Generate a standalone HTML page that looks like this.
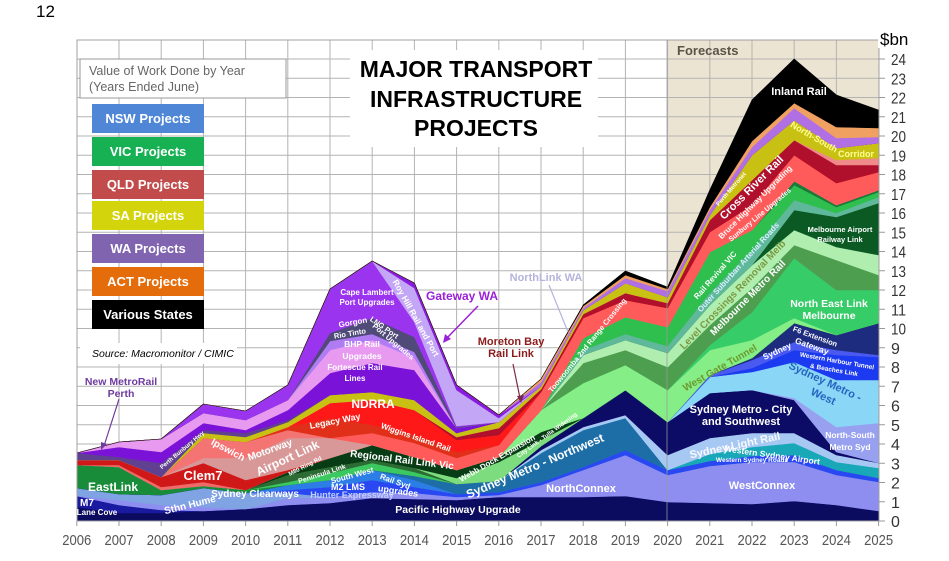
<!DOCTYPE html>
<html><head><meta charset="utf-8">
<style>
html,body{margin:0;padding:0;background:#fff;}
svg{display:block;font-family:"Liberation Sans",Arial,sans-serif;}
.w{fill:#fff;font-weight:bold;text-anchor:middle;}
</style></head><body>
<svg id="c" width="949" height="561" viewBox="0 0 949 561" xmlns="http://www.w3.org/2000/svg">
<rect width="949" height="561" fill="#fff"/>
<rect x="667" y="40" width="212" height="481" fill="#ece4d2"/>
<g id="grid"></g>
<g id="areas"></g>
<line x1="667" y1="40" x2="667" y2="521" stroke="#9a9a9a" stroke-width="1" opacity="0.75"/>
<rect x="77" y="40" width="802" height="481" fill="none" stroke="#a0a0a0" stroke-width="1"/>
<g id="ticks"></g>

<!-- legend -->
<rect x="80" y="59" width="206" height="39" fill="#fff" stroke="#9a9a9a" stroke-width="1"/>
<text x="89" y="75" font-size="12.5" fill="#666">Value of Work Done by Year</text>
<text x="89" y="91" font-size="12.5" fill="#666">(Years Ended June)</text>
<rect x="92" y="104" width="112" height="29" fill="#4f86d6"/>
<text x="148" y="123" class="w" font-size="13">NSW Projects</text>
<rect x="92" y="137" width="112" height="29" fill="#17b153"/>
<text x="148" y="156" class="w" font-size="13">VIC Projects</text>
<rect x="92" y="170" width="112" height="29" fill="#c24b4b"/>
<text x="148" y="189" class="w" font-size="13">QLD Projects</text>
<rect x="92" y="201" width="112" height="29" fill="#d4d40c"/>
<text x="148" y="220" class="w" font-size="13">SA Projects</text>
<rect x="92" y="234" width="112" height="29" fill="#8064b0"/>
<text x="148" y="253" class="w" font-size="13">WA Projects</text>
<rect x="92" y="267" width="112" height="29" fill="#e46c0a"/>
<text x="148" y="286" class="w" font-size="13">ACT Projects</text>
<rect x="92" y="300" width="112" height="29" fill="#000"/>
<text x="148" y="319" class="w" font-size="13">Various States</text>
<rect x="80" y="343" width="157" height="21" fill="#fff"/>
<text x="92" y="357" font-size="10.5" font-style="italic" fill="#000">Source: Macromonitor / CIMIC</text>

<!-- title -->
<rect x="350" y="50" width="248" height="97" fill="#fff"/>
<text x="476" y="77" font-size="23" font-weight="bold" text-anchor="middle" fill="#000">MAJOR TRANSPORT</text>
<text x="476" y="107" font-size="23" font-weight="bold" text-anchor="middle" fill="#000">INFRASTRUCTURE</text>
<text x="476" y="136" font-size="23" font-weight="bold" text-anchor="middle" fill="#000">PROJECTS</text>

<text x="677" y="55" font-size="13" font-weight="bold" fill="#5a5448">Forecasts</text>
<rect x="878" y="26" width="33" height="22" fill="#fff"/>
<text x="880" y="45" font-size="17" fill="#000">$bn</text>
<text x="36" y="17" font-size="17" fill="#000">12</text>

<!-- callouts -->
<text x="121" y="385" font-size="10.5" font-weight="bold" text-anchor="middle" fill="#6e3a9e">New MetroRail</text>
<text x="121" y="397" font-size="10.5" font-weight="bold" text-anchor="middle" fill="#6e3a9e">Perth</text>
<line x1="119" y1="399" x2="104" y2="446" stroke="#6e3a9e" stroke-width="1.2"/>
<polygon points="101,450 101,442 107,444" fill="#6e3a9e"/>
<text x="462" y="300" font-size="12" font-weight="bold" text-anchor="middle" fill="#9b20d9">Gateway WA</text>
<line x1="478" y1="306" x2="446" y2="339" stroke="#9b20d9" stroke-width="1.5"/>
<polygon points="443,343 445,334 451,339" fill="#9b20d9"/>
<text x="511" y="345" font-size="11" font-weight="bold" text-anchor="middle" fill="#8c1c1c">Moreton Bay</text>
<text x="511" y="357" font-size="11" font-weight="bold" text-anchor="middle" fill="#8c1c1c">Rail Link</text>
<line x1="513" y1="364" x2="520" y2="398" stroke="#7a2a4a" stroke-width="1.2"/>
<polygon points="521,403 517,396 524,395" fill="#7a2a4a"/>
<text x="546" y="281" font-size="11" font-weight="bold" text-anchor="middle" fill="#b4b4dc">NorthLink WA</text>
<line x1="549" y1="285" x2="568" y2="332" stroke="#b4b4dc" stroke-width="1.2"/>

<!-- in-area labels -->
<g class="w">
<text x="458" y="513" font-size="10.5">Pacific Highway Upgrade</text>
<text x="762" y="489" font-size="11">WestConnex</text>
<text x="581" y="492" font-size="11">NorthConnex</text>
<text x="535" y="470" font-size="12" transform="rotate(-23 535 466)">Sydney Metro - Northwest</text>
<text x="741" y="413" font-size="11">Sydney Metro - City</text>
<text x="741" y="425" font-size="11">and Southwest</text>
<text x="850" y="438" font-size="8.5">North-South</text>
<text x="850" y="450" font-size="8.5">Metro Syd</text>
<text x="735" y="449" font-size="11" transform="rotate(-12 735 446)" opacity="0.9">Sydney Light Rail</text>
<text x="772" y="458" font-size="8.5" transform="rotate(8 772 456)">Western Sydney Airport</text>
<text x="752" y="462" font-size="6.5">Western Sydney Roads</text>
<text x="829" y="307" font-size="10.5">North East Link</text>
<text x="829" y="319" font-size="10.5">Melbourne</text>
<text x="815" y="339" font-size="7.5" transform="rotate(20 815 337)">F6 Extension</text>
<text x="777" y="354" font-size="8.5" transform="rotate(-25 777 351)">Sydney</text>
<text x="812" y="349" font-size="8.5" transform="rotate(20 812 346)">Gateway</text>
<text x="837" y="363" font-size="6.5" transform="rotate(10 837 361)">Western Harbour Tunnel</text>
<text x="834" y="372" font-size="6.5" transform="rotate(10 834 370)">&amp; Beaches Link</text>
<text x="840" y="232" font-size="7.5">Melbourne Airport</text>
<text x="840" y="242" font-size="7.5">Railway Link</text>
<text x="799" y="95" font-size="11">Inland Rail</text>
<text x="752" y="191" font-size="11" transform="rotate(-45 752 188)">Cross River Rail</text>
<text x="755" y="205" font-size="8" transform="rotate(-45 755 202)">Bruce Highway Upgrading</text>
<text x="731" y="191" font-size="6" transform="rotate(-49 731 189)">Perth Metronet</text>
<text x="760" y="217" font-size="7" transform="rotate(-40 760 215)">Sunbury Line Upgrades</text>
<text x="715" y="278" font-size="8" transform="rotate(-49 715 275)">Rail Revival VIC</text>
<text x="738" y="270" font-size="8" transform="rotate(-48 738 267)" fill="#d8f0ff">Outer Suburban Arterial Roads</text>
<text x="748" y="301" font-size="10" transform="rotate(-45 748 298)">Melbourne Metro Rail</text>
<text x="587" y="348" font-size="7.5" transform="rotate(-51 587 345)">Toowoomba 2nd Range Crossing</text>
<text x="497" y="461" font-size="8" transform="rotate(-30 497 458)">Webb Dock Expansion</text>
<text x="547" y="437" font-size="6" transform="rotate(-36 547 435)">City Link - Tulla Widening</text>
<text x="416" y="321" font-size="8.5" transform="rotate(61 416 318)">Roy Hill Rail and Port</text>
<text x="367" y="295" font-size="8">Cape Lambert</text>
<text x="367" y="305" font-size="8">Port Upgrades</text>
<text x="353" y="325" font-size="8" transform="rotate(-10 353 323)">Gorgon</text>
<text x="350" y="336" font-size="7.5" transform="rotate(-10 350 334)">Rio Tinto</text>
<text x="384" y="330" font-size="7.5" transform="rotate(35 384 328)">LNG Port</text>
<text x="393" y="344" font-size="7.5" transform="rotate(40 393 342)">Port Upgrades</text>
<text x="362" y="347" font-size="8.5">BHP Rail</text>
<text x="362" y="359" font-size="8.5">Upgrades</text>
<text x="355" y="370" font-size="8">Fortescue Rail</text>
<text x="355" y="381" font-size="8">Lines</text>
<text x="373" y="408" font-size="12">NDRRA</text>
<text x="335" y="424" font-size="9" transform="rotate(-11 335 421)">Legacy Way</text>
<text x="416" y="440" font-size="8" transform="rotate(19 416 437)">Wiggins Island Rail</text>
<text x="402" y="463" font-size="10" transform="rotate(7 402 460)">Regional Rail Link Vic</text>
<text x="305" y="468" font-size="6" transform="rotate(-27 305 466)">M80 Ring Rd</text>
<text x="322" y="476" font-size="7" transform="rotate(-18 322 474)">Peninsula Link</text>
<text x="352" y="478" font-size="8" transform="rotate(-15 352 475)">South West</text>
<text x="395" y="484" font-size="8" transform="rotate(20 395 482)">Rail Syd</text>
<text x="348" y="490" font-size="9">M2 LMS</text>
<text x="398" y="494" font-size="9" transform="rotate(8 398 492)">upgrades</text>
<text x="352" y="498" font-size="9" fill="#c0d0ff">Hunter Expressway</text>
<text x="288" y="462" font-size="12" transform="rotate(-25 288 459)">Airport Link</text>
<text x="228" y="453" font-size="10" transform="rotate(28 228 450)">Ipswich</text>
<text x="270" y="453" font-size="10" transform="rotate(-20 270 450)">Motorway</text>
<text x="203" y="480" font-size="13">Clem7</text>
<text x="113" y="491" font-size="12">EastLink</text>
<text x="87" y="506" font-size="10">M7</text>
<text x="97" y="515" font-size="8">Lane Cove</text>
<text x="190" y="508" font-size="10" transform="rotate(-14 190 505)">Sthn Hume</text>
<text x="255" y="497" font-size="10">Sydney Clearways</text>
<text x="182" y="452" font-size="6" transform="rotate(-40 182 450)">Perth Bunbury Hwy</text>
</g>
<text x="720" y="371" font-size="10" font-weight="bold" text-anchor="middle" fill="#6c9a30" transform="rotate(-30 720 368)">West Gate Tunnel</text>
<text x="733" y="298" font-size="10" font-weight="bold" text-anchor="middle" fill="#7a9a40" transform="rotate(-46 733 295)">Level Crossings Removal Melb</text>
<text x="825" y="385" font-size="11" font-weight="bold" text-anchor="middle" fill="#2565c0" transform="rotate(25 825 382)">Sydney Metro -</text>
<text x="823" y="400" font-size="11" font-weight="bold" text-anchor="middle" fill="#2565c0" transform="rotate(25 823 397)">West</text>
<text x="814" y="140" font-size="9" font-weight="bold" text-anchor="middle" fill="#ffff90" transform="rotate(30 814 137)">North-South</text>
<text x="856" y="157" font-size="9" font-weight="bold" text-anchor="middle" fill="#ffff90">Corridor</text>
<g id="labels"></g>
</svg>
<script>
(function(){
var NS="http://www.w3.org/2000/svg";
function X(i){return 76.8+i*42.2;}
function Y(v){return 521-v*19.25;}
function z(k){var a=[];for(var i=0;i<k;i++)a.push(null);return a;}
function el(tag,attrs,parent){var e=document.createElementNS(NS,tag);for(var k in attrs)e.setAttribute(k,attrs[k]);parent.appendChild(e);return e;}
var n=null;
var grid=document.getElementById('grid');
for(var v=1;v<25;v++){el('line',{x1:77,y1:Y(v),x2:879,y2:Y(v),stroke:'#b3b3b3','stroke-width':1},grid);}
for(var i=1;i<19;i++){el('line',{x1:X(i),y1:40,x2:X(i),y2:521,stroke:'#b3b3b3','stroke-width':1},grid);}
var L=[
['#0b0b60',[507,513,513,511,509,505,503,498,499,500,497,497,497,496,502,503,504,501,505,511]],
['#1a1aa0',[496,505,510].concat(z(17))],
['#8e8ef0',[n,500,505,507,n,498,497,492,493,497,495,485,470,455,475,466,462,462,475,482]],
['#7fa3e3',[488,494,495,488,493,493].concat(z(14))],
['#2a48f2',z(5).concat([490,487,480,487,494,492,482,467,450,470,461,456,455,470,478])],
['#2c7ee6',z(5).concat([485,480,470,480]).concat(z(11))],
['#1d6ea6',z(8).concat([476,484,481,453,430,418]).concat(z(6))],
['#19a8b8',z(15).concat([454,447,443,462,468])],
['#a8c8f4',z(11).concat([450,427,415,455,438,433,433,455,463])],
['#0c0c66',z(11).concat([446,418,390,422,393,390,400,452,n])],
['#98a0f0',z(17).concat([398,427,423])],
['#8ad6f6',z(15).concat([377,372,362,380,380])],
['#1c3af0',z(16).concat([368,350,355,357])],
['#4a5af0',z(15).concat([375,360,342,350,355])],
['#1e2c80',z(16).concat([358,323,335,323])],
// VIC
['#198c3a',[465,467,490,486,490].concat(z(15))],
['#3cc860',z(5).concat([482,473,463,472]).concat(z(11))],
['#2c6c34',z(5).concat([475,467,460,468]).concat(z(11))],
['#7ddc7d',z(9).concat([478,462,440]).concat(z(8))],
['#073c14',z(5).concat([472,458,445,457,470,457,432]).concat(z(8))],
['#86ee86',z(11).concat([410,383,365,390,350,340,318,n,n])],
['#36cc68',z(15).concat([345,312,258,290,290])],
['#4e9e50',z(12).concat([363,350,367,325,288,245,260,275])],
['#b0eeb0',z(12).concat([355,340,353,305,265,230,247,255])],
['#0b5a24',z(17).concat([210,217,203])],
['#5fb89a',z(12).concat([350,334,346,293,250,200,213,197])],
['#2fbf4f',z(12).concat([338,317,327,252,230,185,207,192])],
['#1a7a3a',z(17).concat([181,205,190])],
// QLD
['#f06a6a',[n,465,487,482].concat(z(16))],
['#d01818',[460,460,477,463,480,470].concat(z(14))],
['#d89898',[n,n,n,458,458,438,438].concat(z(13))],
['#f47474',[n,n,n,438,442,430].concat(z(14))],
['#ff5b5b',z(7).concat([433,443,458,445,392,318,300,308,232,205,155,183,172])],
['#e0301a',z(5).concat([427,418,425,435,452]).concat(z(10))],
['#ff1818',z(6).concat([403,400,410,440,435]).concat(z(9))],
['#b0102c',z(9).concat([437,428,389,314,293,303,220,180,140,165,165])],
['#f08a8a',z(18).concat([160,158])],
// SA
['#c8c012',[n,n,n,433,437,422,395,392,400,433,422,386,310,283,297,215,155,120,148,143]],
// WA
['#604090',[453,457,463,430,433,420].concat(z(14))],
['#7a12d8',[n,447,452,423,430,410,373,363,370,428].concat(z(10))],
['#e89af0',[n,442,439,413,420,400,350,340,358].concat(z(11))],
['#b07cf4',z(6).concat([341,334,352]).concat(z(11))],
['#4f4a78',z(6).concat([333,318,337,427]).concat(z(10))],
['#9b34ee',[453,442,439,404,411,385,289,261,322,426].concat(z(10))],
['#c4a6f6',z(8).concat([288,390,418]).concat(z(9))],
['#8a1ae0',z(8).concat([283,385,415]).concat(z(9))],
['#b070e4',z(11).concat([382,308,278,291,210,147,108,138,137])],
// ACT
['#f0a060',z(11).concat([379,306,275,289,207,141,103,127,128])],
// Various
['#000000',z(12).concat([305,271,287,190,100,59,95,110])]
];
var areas=document.getElementById('areas');
var prev=[];for(var i=0;i<20;i++)prev.push(521);
for(var k=0;k<L.length;k++){
  var c=L[k][0],a=L[k][1],cur=[];
  for(var i=0;i<20;i++){var v=a[i];cur.push(v==null?prev[i]:Math.min(v,prev[i]));}
  var pts=[];
  for(var i=0;i<20;i++)pts.push(X(i).toFixed(1)+','+cur[i]);
  for(var i=19;i>=0;i--)pts.push(X(i).toFixed(1)+','+prev[i]);
  el('polygon',{points:pts.join(' '),fill:c,stroke:c,'stroke-width':0.6,'stroke-linejoin':'round'},areas);
  prev=cur;
}
var t=document.getElementById('ticks');
for(var v=0;v<=24;v++){
  el('line',{x1:879,y1:Y(v),x2:885,y2:Y(v),stroke:'#999','stroke-width':1},t);
  var tx=el('text',{x:891,y:(Y(v)+6).toFixed(1),'font-size':16,fill:'#333'},t);
  tx.textContent=String(v);
  if(v>=10){tx.setAttribute('textLength','15');tx.setAttribute('lengthAdjust','spacingAndGlyphs');}
}
for(var i=0;i<20;i++){
  el('line',{x1:X(i),y1:521,x2:X(i),y2:526,stroke:'#999','stroke-width':1},t);
  var tx=el('text',{x:X(i).toFixed(1),y:545,'font-size':15,fill:'#555','text-anchor':'middle',textLength:29,lengthAdjust:'spacingAndGlyphs'},t);
  tx.textContent=String(2006+i);
}
})();
</script>
</body></html>
